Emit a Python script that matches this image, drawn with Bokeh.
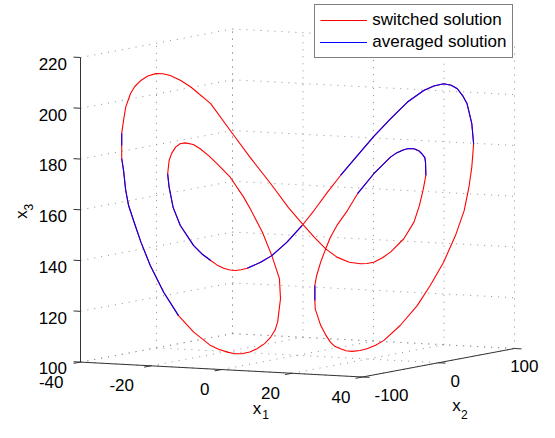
import numpy as np
from bokeh.plotting import figure
from bokeh.models import Range1d, Legend, LegendItem
from bokeh.core.properties import value
from bokeh.embed import file_html
from bokeh.resources import INLINE

# ---------------- data ----------------
# one closed orbit; the switched and the averaged solution coincide at this scale
x1 = [-26.2, -24.8, -23.4, -21.6, -19.7, -16.0, -12.4, -8.7, -5.0, -1.7,
      0.9, 3.0, 5.2, 7.3, 9.5, 11.6, 12.8, 14.1, 15.7, 17.1,
      19.6, 21.4, 22.5, 23.1, 23.7, 23.6, 23.4, 23.0, 22.3, 21.4,
      20.5, 19.6, 18.3, 17.1, 14.1, 11.0, 9.2, 7.3, 6.1, 5.2,
      4.2, 3.5, 3.2, 3.2, 3.3, 4.2, 5.1, 6.1, 6.9, 7.9,
      9.0, 10.1, 11.5, 12.8, 14.4, 15.9, 19.0, 22.1, 24.5, 27.0,
      29.1, 30.7, 31.6, 32.2, 32.5, 32.2, 31.3, 30.5, 29.4, 28.3,
      27.0, 25.1, 23.3, 20.2, 17.1, 14.1, 11.0, 7.9, 5.5, 3.0,
      0.9, -1.9, -4.7, -6.8, -9.3, -10.4, -11.4, -12.5, -13.6, -14.9,
      -16.0, -17.7, -19.1, -21.6, -23.0, -23.7, -23.9, -23.7, -23.2, -22.5,
      -21.7, -20.6, -19.2, -17.9, -16.3, -14.8, -12.4, -9.9, -8.7, -6.5,
      -4.7, -3.4, -3.1, -3.7, -4.2, -5.0, -6.1, -7.4, -8.8, -10.2,
      -11.6, -13.0, -14.6, -16.0, -19.1, -21.9, -24.6, -27.1, -28.9, -30.2,
      -31.1, -31.7, -32.1, -32.4, -32.4, -32.4, -32.1, -31.7, -30.8, -30.0,
      -28.9, -27.6, -26.2]
x2 = [-65, -62, -59, -54, -49, -40, -31, -22, -12, -4,
      2, 8, 13, 18, 24, 29, 32, 35, 39, 43,
      49, 54, 56, 58, 59, 59, 59, 57, 56, 54,
      51, 49, 46, 43, 35, 28, 23, 18, 15, 13,
      11, 9, 8, 8, 8, 11, 13, 15, 17, 20,
      22, 25, 29, 32, 36, 40, 47, 55, 61, 67,
      73, 77, 79, 80, 81, 80, 78, 76, 74, 71,
      67, 63, 58, 51, 43, 35, 28, 20, 14, 8,
      2, -5, -12, -17, -23, -26, -29, -31, -34, -37,
      -40, -44, -48, -54, -57, -59, -60, -59, -58, -56,
      -54, -52, -48, -45, -41, -37, -31, -25, -22, -16,
      -12, -8, -8, -9, -10, -12, -15, -19, -22, -26,
      -29, -32, -36, -40, -48, -55, -62, -68, -72, -75,
      -78, -79, -80, -81, -81, -81, -80, -79, -77, -75,
      -72, -69, -65]
x3 = [212.7, 212.6, 211.8, 209.8, 207.0, 200.2, 189.4, 178.6, 167.9, 158.3,
      151.8, 146.3, 141.6, 138.2, 136.0, 135.3, 135.3, 135.7, 137.4, 139.5,
      144.6, 151.0, 157.5, 163.4, 169.3, 174.4, 176.3, 177.9, 179.1, 179.9,
      180.1, 179.7, 178.6, 176.9, 170.6, 162.9, 156.4, 150.7, 146.1, 141.6,
      136.4, 131.2, 127.3, 121.4, 118.1, 111.5, 107.9, 104.8, 103.1, 102.0,
      101.2, 100.9, 101.1, 101.7, 103.0, 104.8, 110.5, 118.1, 125.9, 134.9,
      145.3, 155.0, 164.1, 172.0, 181.2, 189.1, 197.0, 200.2, 203.0, 204.5,
      205.2, 204.4, 202.8, 198.4, 192.0, 185.3, 178.0, 170.3, 163.9, 156.9,
      151.1, 144.7, 139.6, 137.1, 134.9, 134.4, 134.2, 134.4, 135.2, 136.6,
      138.4, 141.2, 144.5, 152.6, 159.8, 167.8, 173.1, 178.3, 181.1, 183.5,
      184.8, 185.1, 184.3, 182.6, 179.7, 176.4, 171.0, 163.0, 158.4, 148.9,
      139.6, 130.4, 122.5, 113.3, 110.2, 107.5, 105.0, 103.1, 101.9, 101.3,
      101.4, 102.1, 103.3, 104.9, 110.4, 117.1, 126.5, 137.2, 146.5, 154.5,
      161.1, 167.1, 175.0, 179.7, 184.8, 189.6, 194.7, 199.9, 205.1, 207.9,
      210.2, 211.9, 212.7]
# point-index stretches where the averaged solution lies on top
averaged_on_top = [(24, 35), (42, 43), (64, 77), (80, 84), (90, 96), (125, 133), (134, 135)]

series_names = ["switched solution", "averaged solution"]
series_colors = ["#ff0000", "#0000ff"]

x1_ticks = [-40, -20, 0, 20, 40]
x2_ticks = [-100, 0, 100]
x3_ticks = [100, 120, 140, 160, 180, 200, 220]
x1_lim = (-40, 40)
x2_lim = (-100, 100)
x3_lim = (100, 220)

# ---------------- view (canvas pixels) ----------------
W, H = 539, 422
CORNER = (80.0, 361.6)      # (x1 min, x2 min, x3 min) corner
E1 = (282.0, 14.9)          # full x1 edge
E2 = (152.0, -28.5)         # full x2 edge
E3 = (0.0, -304.6)          # full x3 edge


def proj(a, b, c):
    a = np.asarray(a, dtype=float)
    b = np.asarray(b, dtype=float)
    c = np.asarray(c, dtype=float)
    fa = (a - x1_lim[0]) / (x1_lim[1] - x1_lim[0])
    fb = (b - x2_lim[0]) / (x2_lim[1] - x2_lim[0])
    fc = (c - x3_lim[0]) / (x3_lim[1] - x3_lim[0])
    sx = CORNER[0] + fa * E1[0] + fb * E2[0] + fc * E3[0]
    sy = CORNER[1] + fa * E1[1] + fb * E2[1] + fc * E3[1]
    return sx, sy


p = figure(width=W, height=H, x_range=Range1d(0, W), y_range=Range1d(H, 0),
           x_axis_type=None, y_axis_type=None, toolbar_location=None,
           output_backend="svg", min_border=0, outline_line_color=None)
p.background_fill_color = "white"
p.border_fill_color = "white"

lo1, hi1 = x1_lim
lo2, hi2 = x2_lim
lo3, hi3 = x3_lim

# ---------------- grid on back planes ----------------
gx, gy = [], []


def seg(pa, pb, xs, ys):
    sx, sy = proj([pa[0], pb[0]], [pa[1], pb[1]], [pa[2], pb[2]])
    xs.append(list(sx))
    ys.append(list(sy))


for z in x3_ticks:
    seg((lo1, lo2, z), (lo1, hi2, z), gx, gy)
    seg((lo1, hi2, z), (hi1, hi2, z), gx, gy)
for v in x2_ticks:
    seg((lo1, v, lo3), (lo1, v, hi3), gx, gy)
    seg((lo1, v, lo3), (hi1, v, lo3), gx, gy)
for u in x1_ticks:
    seg((u, hi2, lo3), (u, hi2, hi3), gx, gy)
    seg((u, lo2, lo3), (u, hi2, lo3), gx, gy)
p.multi_line(gx, gy, line_color="#8f8f8f", line_width=1, line_dash="1 6")

# ---------------- axes and ticks ----------------
ax, ay = [], []
seg((lo1, lo2, lo3), (lo1, lo2, hi3), ax, ay)
seg((lo1, lo2, lo3), (hi1, lo2, lo3), ax, ay)
seg((hi1, lo2, lo3), (hi1, hi2, lo3), ax, ay)

u1 = np.array(E1) / np.hypot(*E1)
u2 = np.array(E2) / np.hypot(*E2)
TL = 7.0
for z in x3_ticks:
    tx, ty = proj(lo1, lo2, z)
    ax.append([float(tx), float(tx - TL * u1[0])])
    ay.append([float(ty), float(ty - TL * u1[1])])
for u in x1_ticks:
    tx, ty = proj(u, lo2, lo3)
    ax.append([float(tx), float(tx - TL * u2[0])])
    ay.append([float(ty), float(ty - TL * u2[1])])
for v in x2_ticks:
    tx, ty = proj(hi1, v, lo3)
    ax.append([float(tx), float(tx + TL * u1[0])])
    ay.append([float(ty), float(ty + TL * u1[1])])
p.multi_line(ax, ay, line_color="#333333", line_width=1)

# ---------------- curves ----------------
sx, sy = proj(x1, x2, x3)
LW = 1.1
r_sw = p.line(sx, sy, line_color=series_colors[0], line_width=LW, line_join="round")
r_avg = []
for i0, i1 in averaged_on_top:
    r_avg.append(p.line(sx[i0:i1 + 1], sy[i0:i1 + 1], line_color=series_colors[1],
                        line_width=LW, line_join="round"))

# ---------------- texts ----------------
FONT = value("Liberation Sans")


def txt(xs, ys, texts, size=17, align="left", angle=0.0):
    p.text(x=[float(v) for v in xs], y=[float(v) for v in ys], text=list(texts),
           text_font=FONT, text_font_size=value(f"{size}px"), text_align=align,
           text_baseline="alphabetic", text_color="black", angle=angle)


zx, zy = proj(lo1, lo2, np.array(x3_ticks))
txt(zx - 13.5, zy + 6.3, [str(v) for v in x3_ticks], align="right")

ux, uy = proj(np.array(x1_ticks), lo2, lo3)
txt([x - 12 - (5 if t < 0 else 0) for x, t in zip(ux, x1_ticks)], uy + 19.5,
    [str(v) for v in x1_ticks], align="right")

vx, vy = proj(hi1, np.array(x2_ticks), lo3)
right_edge = W - 1
txt([min(x + 12, right_edge - 0.556 * 17 * len(str(t))) for x, t in zip(vx, x2_ticks)],
    vy + 17.8, [str(v) for v in x2_ticks], align="left")

# axis titles: x with subscript
txt([252.3, 451.7], [408.0, 404.5], ["x", "x"])
txt([261.7, 460.5], [413.5, 413.8], ["1", "2"], size=12)
txt([20.7], [218.3], ["x"], angle=np.pi / 2)
txt([28.3], [210.0], ["3"], size=12, angle=np.pi / 2)

# ---------------- legend ----------------
legend = Legend(items=[LegendItem(label=series_names[0], renderers=[r_sw]),
                       LegendItem(label=series_names[1], renderers=r_avg)],
                location=(314.3, 364.3), margin=0, padding=5, spacing=2,
                glyph_width=47, glyph_height=20, label_height=20, label_standoff=5,
                label_text_font="Liberation Sans", label_text_font_size="17px",
                label_text_color="black", border_line_color="black", border_line_width=1,
                background_fill_color="white", background_fill_alpha=1.0)
p.add_layout(legend)

open("out.html", "w").write(file_html(p, INLINE))
